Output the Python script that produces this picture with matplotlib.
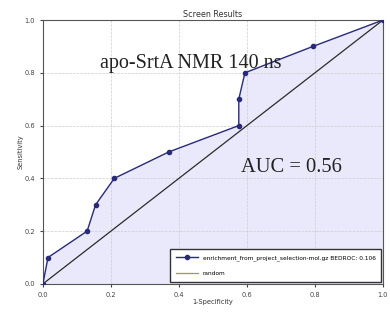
import matplotlib
matplotlib.use('Agg')
import matplotlib.pyplot as plt

# ROC points
fpr = [0.0, 0.015, 0.13, 0.155, 0.21, 0.37, 0.576, 0.576, 0.594, 0.794, 1.0]
tpr = [0.0, 0.1, 0.2, 0.3, 0.4, 0.5, 0.6, 0.7, 0.8, 0.9, 1.0]
rand_x = [0.0, 1.0]
rand_y = [0.0, 1.0]
curve_label = 'enrichment_from_project_selection-mol.gz BEDROC: 0.106'
ticks = [0.0, 0.2, 0.4, 0.6, 0.8, 1.0]

fig = plt.figure(figsize=(3.9, 3.13), dpi=100)
ax = fig.add_axes([0.11, 0.093, 0.872, 0.843])

ax.fill_between(fpr, tpr, 0, color='#e9e9fb', zorder=1)
ax.plot(fpr, tpr, color='#2a2a7a', marker='o', markersize=3, linewidth=1,
        label=curve_label, zorder=3)
ax.plot(rand_x, rand_y, color='#2b2b2b', linewidth=0.9, label='random', zorder=2)

ax.set_xlim(0, 1)
ax.set_ylim(0, 1)
ax.set_xticks(ticks)
ax.set_yticks(ticks)
ax.set_xticklabels(['%.1f' % t for t in ticks])
ax.set_yticklabels(['%.1f' % t for t in ticks])
ax.tick_params(labelsize=4.8, length=2, colors='#444444')
ax.grid(True, color='#cccccc', linestyle='--', linewidth=0.5)
for s in ax.spines.values():
    s.set_color('#555555')
    s.set_linewidth(0.8)

ax.set_title('Screen Results', fontsize=5.8, pad=2, color='#333333')
ax.set_xlabel('1-Specificity', fontsize=4.8, labelpad=1, color='#333333')
ax.set_ylabel('Sensitivity', fontsize=4.8, labelpad=1, color='#333333')

leg = ax.legend(loc='lower right', fontsize=4.2, handlelength=3.7,
                fancybox=False, framealpha=1, borderpad=1.0, labelspacing=1.8,
                borderaxespad=0.3)
leg.get_frame().set_edgecolor('#333333')
leg.get_lines()[1].set_color('#9aa040')

ax.text(0.435, 0.837, 'apo-SrtA NMR 140 ns', family='Liberation Serif',
        fontsize=14.5, ha='center', va='center', color='#222222', zorder=4)
ax.text(0.73, 0.44, 'AUC = 0.56', family='Liberation Serif',
        fontsize=14.8, ha='center', va='center', color='#222222', zorder=4)

plt.savefig('out.png', dpi=100)
plt.close()
